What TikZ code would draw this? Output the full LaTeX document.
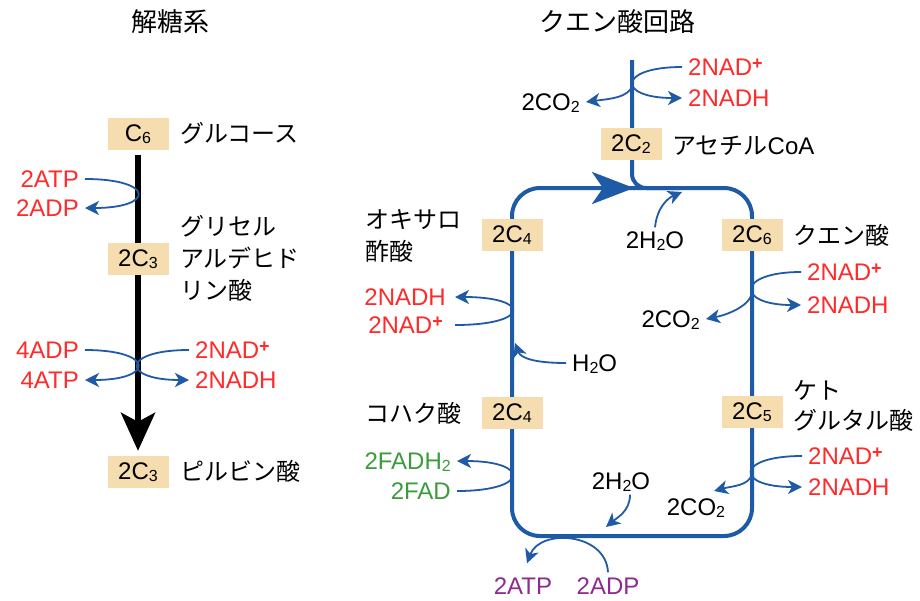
\documentclass[tikz,border=0pt]{standalone}
\usepackage{fontspec}
\setmainfont{Liberation Sans}
\newfontfamily\jp{Noto Sans CJK JP}
\usetikzlibrary{arrows.meta}
\pgfdeclarelayer{bg}
\pgfsetlayers{bg,main}
\definecolor{nred}{HTML}{FF2A2A}
\definecolor{nblue}{HTML}{1F5AA6}
\definecolor{ngreen}{HTML}{3C9C3C}
\definecolor{npurple}{HTML}{8E2A90}
\definecolor{nbox}{HTML}{F5DDB0}
\newcommand\sbs[1]{\raisebox{-1.5pt}{\fontsize{16}{16}\selectfont #1}}
\newcommand\spp{\raisebox{6pt}{\fontsize{18}{18}\selectfont\bfseries +}}
\begin{document}
\begin{tikzpicture}[x=1pt,y=-1pt,
  lbl/.style={font=\fontsize{24}{28}\selectfont, inner xsep=6pt, inner ysep=0pt, text height=17pt, text depth=0pt},
  jl/.style={font=\jp\fontsize{24}{32}\selectfont, inner sep=0pt, align=left},
  jl2/.style={font=\jp\fontsize{24}{30}\selectfont, inner sep=0pt, align=left},
  jt/.style={font=\jp\fontsize{26}{30}\selectfont, inner sep=0pt},
  cbox/.style={fill=nbox, minimum width=61pt, minimum height=32pt, inner sep=0pt, font=\fontsize{24}{26}\selectfont},
  flow/.style={nblue, line width=1.8pt, -{Stealth[length=14pt,width=14pt,inset=4pt]}},
  cyc/.style={nblue, line width=4pt}
]
\useasboundingbox (0,0) rectangle (920,600);
\begin{pgfonlayer}{bg}
\fill[white] (0,0) rectangle (920,600);
\end{pgfonlayer}

% titles
\node[jt] (tg) at (170,22) {解糖系};
\node[jt] (tc) at (617,22) {クエン酸回路};

% glycolysis
\node[cbox] (c6) at (138,134) {C\sbs{6}};
\node[cbox] (c3a) at (138,259) {2C\sbs{3}};
\node[cbox] (pyr) at (138,472) {2C\sbs{3}};
\node[jl,anchor=west] (glc) at (180,133) {グルコース};
\node[jl,anchor=west] (gap) at (180,258) {グリセル\\アルデヒド\\リン酸};
\node[jl,anchor=west] (pyrl) at (180,471) {ピルビン酸};
\node[lbl,nred,anchor=east] (atp1) at (85,179) {2ATP};
\node[lbl,nred,anchor=east] (adp1) at (85,208) {2ADP};
\node[lbl,nred,anchor=east] (adp4) at (85,350) {4ADP};
\node[lbl,nred,anchor=east] (atp4) at (85,380) {4ATP};
\node[lbl,nred,anchor=west] (nad1) at (189,350) {2NAD\spp};
\node[lbl,nred,anchor=west] (nadh1) at (189,380) {2NADH};

% citric acid cycle
\node[cbox] (c2) at (631,144) {2C\sbs{2}};
\node[cbox] (c4a) at (512,235) {2C\sbs{4}};
\node[cbox] (c6b) at (752,235) {2C\sbs{6}};
\node[cbox] (c4b) at (512,413) {2C\sbs{4}};
\node[cbox] (c5) at (752,412) {2C\sbs{5}};
\node[jl,anchor=west] (acl) at (672,146) {アセチル{\rmfamily CoA}};
\node[jl,anchor=west] (oaa) at (365,236) {オキサロ\\酢酸};
\node[jl,anchor=west] (suc) at (365,413) {コハク酸};
\node[jl,anchor=west] (cit) at (793,235) {クエン酸};
\node[jl2,anchor=west] (akg) at (793,406) {ケト\\グルタル酸};

\node[lbl,anchor=east] (co2a) at (586,102) {2CO\sbs{2}};
\node[lbl,nred,anchor=west] (nad2) at (682,67) {2NAD\spp};
\node[lbl,nred,anchor=west] (nadh2) at (682,98) {2NADH};
\node[lbl] (h2o2) at (655,240) {2H\sbs{2}O};
\node[lbl,nred,anchor=west] (nad3) at (801,272) {2NAD\spp};
\node[lbl,nred,anchor=west] (nadh3) at (801,305) {2NADH};
\node[lbl,anchor=east] (co2b) at (706,319) {2CO\sbs{2}};
\node[lbl,nred,anchor=west] (nad4) at (802,456) {2NAD\spp};
\node[lbl,nred,anchor=west] (nadh4) at (802,487) {2NADH};
\node[lbl] (co2c) at (696,507) {2CO\sbs{2}};
\node[lbl,nred,anchor=east,inner xsep=9pt] (nadh5) at (455,297) {2NADH};
\node[lbl,nred,anchor=east,inner xsep=12pt] (nad5) at (455,325) {2NAD\spp};
\node[lbl,anchor=west] (h2o1) at (566,363) {H\sbs{2}O};
\node[lbl,ngreen,anchor=east] (fadh) at (457,461) {2FADH\sbs{2}};
\node[lbl,ngreen,anchor=east] (fad) at (457,491) {2FAD};
\node[lbl] (h2o3) at (621,481) {2H\sbs{2}O};
\node[lbl,npurple] (atp5) at (523,586) {2ATP};
\node[lbl,npurple] (adp5) at (608,586) {2ADP};

\coordinate (k1) at (633,84);
\coordinate (k2) at (752,293);
\coordinate (k3) at (752,474);
\coordinate (e5) at (714,491);
\coordinate (t3) at (515,343);
\coordinate (t4) at (682,192);
\coordinate (t5) at (606,527);

\begin{pgfonlayer}{bg}
\draw[line width=6pt, -{Stealth[length=38pt,width=34pt,inset=9pt]}] ([yshift=-5pt]c6.south) -- ([yshift=5pt]pyr.north);
\draw[cyc, rounded corners=28pt] (512,188) rectangle (752,536);
\draw[cyc, rounded corners=14pt] (632,60) -- (632,188) -- (680,188);
\end{pgfonlayer}
\draw[nblue, line width=4pt, -{Stealth[length=42pt,width=32pt,inset=11pt]}] (570,188) -- (634,188);

% small arrows glycolysis
\draw[flow] (atp1.east) .. controls +(70,0) and +(70,0) .. (adp1.east);
\draw[flow] (adp4.east) .. controls +(70,0) and +(70,0) .. (atp4.east);
\draw[flow] (nad1.west) .. controls +(-68,0) and +(-68,0) .. (nadh1.west);

% cycle arrows
\draw[flow] (nad2.west) .. controls +(-65,0) and +(-65,0) .. (nadh2.west);
\draw[flow] (k1) .. controls +(-3,14) and +(22,-3) .. (co2a.east);
\draw[flow] (nad3.west) .. controls +(-65,0) and +(-65,0) .. (nadh3.west);
\draw[flow] (k2) .. controls +(-3,14) and +(20,-4) .. (co2b.east);
\draw[flow] (nad4.west) .. controls +(-67,0) and +(-67,0) .. (nadh4.west);
\draw[flow] (k3) .. controls +(-3,12) and +(18,-5) .. (e5);
\draw[flow] (nad5.east) .. controls +(76,0) and +(76,0) .. (nadh5.east);
\draw[flow] (fad.east) .. controls +(73,0) and +(73,0) .. (fadh.east);
\draw[flow] (h2o1.west) .. controls +(-28,0) and +(6,16) .. (t3);
\draw[flow] ([yshift=4pt]h2o2.north) .. controls +(2,-20) and +(-14,6) .. (t4);
\draw[flow] ([xshift=9pt,yshift=-5pt]h2o3.south) .. controls +(0,16) and +(12,-10) .. (t5);
\draw[flow] ([yshift=5pt]adp5.north) .. controls +(-2,-40) and +(13,-35) .. ([xshift=4pt,yshift=14pt]atp5.north);
\end{tikzpicture}
\end{document}
